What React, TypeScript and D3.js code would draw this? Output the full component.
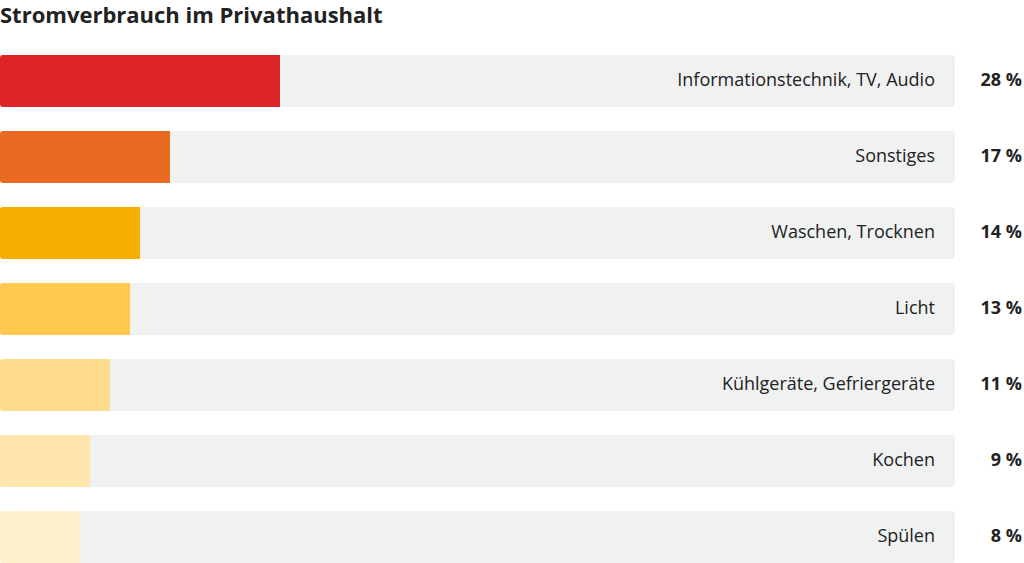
import React from "react";
import * as d3 from "d3";

const categories = [
  "Informationstechnik, TV, Audio",
  "Sonstiges",
  "Waschen, Trocknen",
  "Licht",
  "Kühlgeräte, Gefriergeräte",
  "Kochen",
  "Spülen",
];
const shares = [28, 17, 14, 13, 11, 9, 8];
const barColors = ["#dd2527", "#eb6a22", "#f8ae00", "#ffc84e", "#ffdc8b", "#ffe6ad", "#fff0cd"];
const title = "Stromverbrauch im Privathaushalt";

const width = 1024;
const height = 563;
const font = "'Open Sans', 'Noto Sans', sans-serif";

export default function App() {
  const x = d3.scaleLinear().domain([0, 100]).range([0, 1000]);
  const y = d3.scaleBand<string>().domain(categories).range([55, 563]).paddingInner(0.316).paddingOuter(0);
  const trackEnd = x(95.5);
  const r = 3;

  // colored bar: rounded on the left, square on the right
  const barPath = (w: number, top: number, h: number) => {
    const p = d3.path();
    p.moveTo(w, top);
    p.lineTo(r, top);
    p.arcTo(0, top, 0, top + r, r);
    p.lineTo(0, top + h - r);
    p.arcTo(0, top + h, r, top + h, r);
    p.lineTo(w, top + h);
    p.closePath();
    return p.toString();
  };

  return (
    <div style={{ position: "fixed", left: 0, top: 0 }}>
      <svg width={width} height={height} style={{ display: "block", background: "#fff" }}>
        <text x={0} y={23} fontFamily={font} fontWeight={700} fontSize={22} fill="#222">
          {title}
        </text>
        {categories.map((c, i) => {
          const top = y(c) as number;
          const h = y.bandwidth();
          const cy = top + h / 2 - 2;
          return (
            <g key={c}>
              <rect x={0} y={top} width={trackEnd} height={h} rx={r} fill="#f0f1f1" />
              <path d={barPath(x(shares[i]), top, h)} fill={barColors[i]} />
              <text x={trackEnd - 20} y={cy} textAnchor="end" dominantBaseline="central"
                fontFamily={font} fontSize={18} fill="#222">
                {c}
              </text>
              <text x={1022} y={cy} textAnchor="end" dominantBaseline="central"
                fontFamily={font} fontWeight={700} fontSize={18} fill="#222">
                {`${shares[i]} %`}
              </text>
            </g>
          );
        })}
      </svg>
    </div>
  );
}
